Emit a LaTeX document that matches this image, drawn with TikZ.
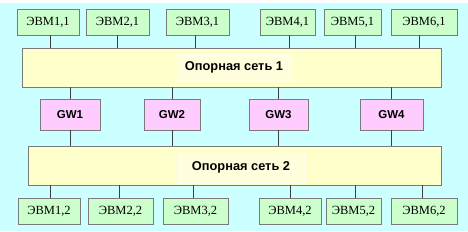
\documentclass[tikz,border=0pt]{standalone}
\usepackage{fontspec}
\setmainfont{Liberation Serif}
\setsansfont{Liberation Sans}
\definecolor{bgc}{HTML}{CCFFFF}
\definecolor{pcg}{HTML}{CCFFCC}
\definecolor{gwc}{HTML}{FFCCFF}
\definecolor{netc}{HTML}{FFFFCC}
\definecolor{lblc}{HTML}{FFFFDD}
\definecolor{bordc}{HTML}{7A7A7A}
\definecolor{linec}{HTML}{404040}
\tikzset{
  pcbox/.style={draw=bordc, fill=pcg, line width=0.8pt, minimum height=26pt, inner sep=0pt, font=\rmfamily\fontsize{12.5}{14}\selectfont},
  gwbox/.style={draw=bordc, fill=gwc, line width=0.8pt, minimum height=31pt, inner sep=0pt, font=\sffamily\bfseries\fontsize{11.5}{13}\selectfont},
  netbox/.style={draw=bordc, fill=netc, line width=0.8pt, minimum height=39pt, inner sep=0pt},
  netlabel/.style={draw=white!70!netc, fill=lblc, line width=0.6pt, inner sep=0pt, font=\sffamily\bfseries\fontsize{12.8}{14}\selectfont},
  conn/.style={draw=linec, line width=0.8pt}
}
\begin{document}
\begin{tikzpicture}[x=1pt, y=-1pt]
\useasboundingbox (0,0) rectangle (468,231);
\fill[white] (0,0) rectangle (468,231);
\fill[bgc] (0,2.5) rectangle (468,231);
% networks
\node[netbox, minimum width=419pt] (N1) at (231.5,67.5) {};
\node[netlabel, minimum width=114pt, minimum height=27pt] (L1) at (234,67.5) {Опорная сеть 1};
\node[netbox, minimum width=413pt] (N2) at (234.5,165.5) {};
\node[netlabel, minimum width=126pt, minimum height=29pt] (L2) at (241,167.5) {Опорная сеть 2};
% top computers
\node[pcbox, minimum width=62pt] (E11) at (48,22) {ЭВМ1,1};
\node[pcbox, minimum width=63pt] (E21) at (117.5,22) {ЭВМ2,1};
\node[pcbox, minimum width=63pt] (E31) at (197.5,22) {ЭВМ3,1};
\node[pcbox, minimum width=55pt] (E41) at (287.5,22) {ЭВМ4,1};
\node[pcbox, minimum width=57pt] (E51) at (352.5,22) {ЭВМ5,1};
\node[pcbox, minimum width=66pt] (E61) at (424,22) {ЭВМ6,1};
% gateways
\node[gwbox, minimum width=60pt] (G1) at (70,114.5) {GW1};
\node[gwbox, minimum width=56pt] (G2) at (172,114.5) {GW2};
\node[gwbox, minimum width=59pt] (G3) at (278.5,114.5) {GW3};
\node[gwbox, minimum width=63pt] (G4) at (391.5,114.5) {GW4};
% bottom computers
\node[pcbox, minimum width=62pt] (E12) at (49,211) {ЭВМ1,2};
\node[pcbox, minimum width=65pt] (E22) at (120.5,211) {ЭВМ2,2};
\node[pcbox, minimum width=65pt] (E32) at (195.5,211) {ЭВМ3,2};
\node[pcbox, minimum width=62pt] (E42) at (290,211) {ЭВМ4,2};
\node[pcbox, minimum width=55pt] (E52) at (353.5,211) {ЭВМ5,2};
\node[pcbox, minimum width=66pt] (E62) at (424,211) {ЭВМ6,2};
% connectors top
\foreach \n/\dx in {E11/2, E21/-0.5, E31/-2.5, E41/1.5, E51/2.5, E61/-5} {
  \draw[conn] ([xshift=\dx pt]\n.south) -- ([xshift=\dx pt]\n.south |- N1.north);
}
% connectors gateways
\foreach \n in {G1,G2,G3,G4} {
  \draw[conn] (\n.north) -- (\n.north |- N1.south);
  \draw[conn] (\n.south) -- (\n.south |- N2.north);
}
% connectors bottom
\foreach \n/\dx in {E12/1, E22/-1.5, E32/-2.5, E42/0, E52/1.5, E62/-2} {
  \draw[conn] ([xshift=\dx pt]\n.north) -- ([xshift=\dx pt]\n.north |- N2.south);
}
\end{tikzpicture}
\end{document}
